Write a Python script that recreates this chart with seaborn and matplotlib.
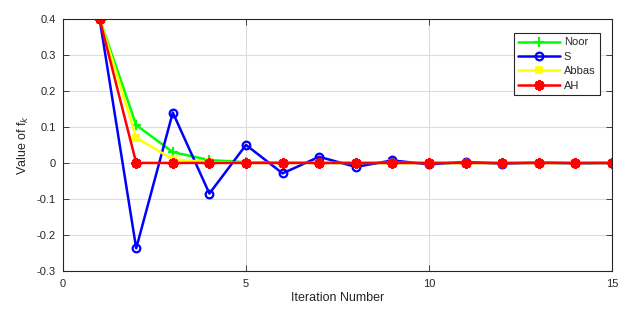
import numpy as np
import pandas as pd
import matplotlib
matplotlib.use("Agg")
import matplotlib.pyplot as plt
import seaborn as sns

# ── data ──────────────────────────────────────────────────────────────────
iters = list(range(1, 16))
noor  = [0.4, 0.105, 0.030, 0.008, 0.002, 0.001, 0.0, 0.0, 0.0, 0.0, 0.0, 0.0, 0.0, 0.0, 0.0]
s_alg = [0.4, -0.237, 0.140, -0.085, 0.050, -0.029, 0.017, -0.011, 0.007, -0.004,
         0.003, -0.002, 0.001, -0.001, 0.0]
abbas = [0.4, 0.070, 0.010, 0.002, 0.0, 0.0, 0.0, 0.0, 0.0, 0.0, 0.0, 0.0, 0.0, 0.0, 0.0]
ah    = [0.4, 0.0, 0.0, 0.0, 0.0, 0.0, 0.0, 0.0, 0.0, 0.0, 0.0, 0.0, 0.0, 0.0, 0.0]

names  = ["Noor", "S", "Abbas", "AH"]
series = [noor, s_alg, abbas, ah]

df = pd.DataFrame({
    "iter": iters * len(names),
    "value": sum(series, []),
    "method": sum([[n] * len(iters) for n in names], []),
})

sns.set_style("white")
plt.rcParams["font.family"] = ["Liberation Sans", "DejaVu Sans"]

styles = {
    "Noor":  dict(color="#00ff00", marker="+", markersize=7, mew=1.6),
    "S":     dict(color="#0000ff", marker="o", markersize=5.5, mew=1.6, mfc="none"),
    "Abbas": dict(color="#ffff00", marker="s", markersize=4.5, mew=1.2),
    "AH":    dict(color="#ff0000", marker=(8, 2, 0), markersize=7.5, mew=2.0),
}

fig, ax = plt.subplots(figsize=(6.27, 3.09), dpi=100)
fig.subplots_adjust(left=0.1005, right=0.976, top=0.939, bottom=0.123)

for n in names:
    st = styles[n]
    sns.lineplot(data=df[df["method"] == n], x="iter", y="value", ax=ax,
                 label=n, linewidth=1.8, color=st["color"], marker=st["marker"],
                 markersize=st["markersize"], markeredgewidth=st["mew"],
                 markeredgecolor=st["color"],
                 markerfacecolor=st.get("mfc", st["color"]))

ax.set_xlim(0, 15)
ax.set_ylim(-0.3, 0.4)
ax.set_xticks([0, 5, 10, 15])
ax.set_yticks(np.arange(-0.3, 0.41, 0.1))
ax.set_yticklabels(["-0.3", "-0.2", "-0.1", "0", "0.1", "0.2", "0.3", "0.4"])
ax.grid(True, color="#dcdcdc", linewidth=0.8)
ax.set_axisbelow(True)
for sp in ax.spines.values():
    sp.set_color("#262626")
    sp.set_linewidth(0.8)
ax.tick_params(direction="in", length=4, width=0.6, colors="#262626",
               labelsize=8, top=True, right=True, left=True, bottom=True)
ax.tick_params(axis="x", pad=6)
ax.tick_params(axis="y", pad=5)
ax.set_xlabel("Iteration Number", fontsize=9, color="#262626", labelpad=2)
ax.set_ylabel("Value of f$_k$", fontsize=9, color="#262626")

leg = ax.legend(loc="upper right", bbox_to_anchor=(0.978, 0.944), borderaxespad=0,
                fontsize=8, frameon=True, fancybox=False, framealpha=1,
                borderpad=0.4, handlelength=3.8, handletextpad=0.3,
                labelspacing=0.4)
leg.get_frame().set_edgecolor("#262626")
leg.get_frame().set_linewidth(0.8)

fig.savefig("out.png", dpi=100)
